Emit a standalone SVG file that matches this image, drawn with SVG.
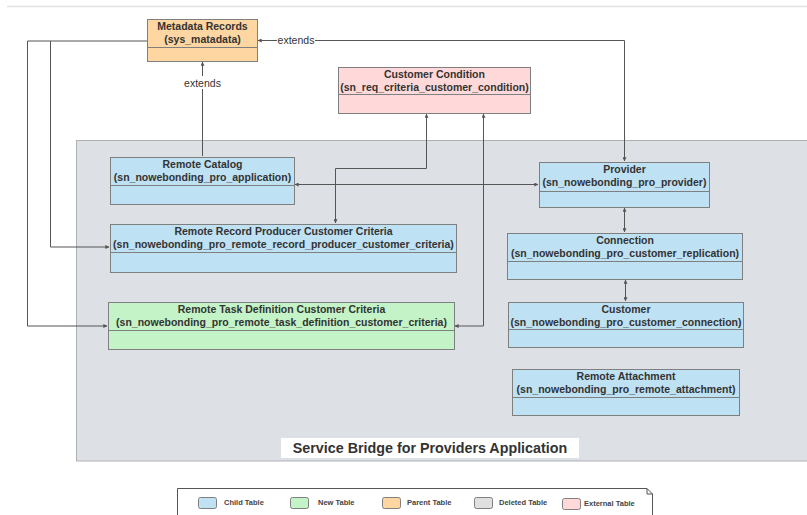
<svg xmlns="http://www.w3.org/2000/svg" width="807" height="515" viewBox="0 0 807 515">
<defs>
<style>
.t{font-family:"Liberation Sans",Arial,sans-serif;font-weight:bold;font-size:10.5px;fill:#333;text-anchor:middle}
.lbl{font-family:"Liberation Sans",Arial,sans-serif;font-size:10.5px;fill:#333;text-anchor:middle}
.lg{font-family:"Liberation Sans",Arial,sans-serif;font-weight:bold;font-size:7.5px;fill:#444}
.box{stroke:#7f7f7f;stroke-width:1}
.div{stroke:#7f7f7f;stroke-width:1}
.blue{fill:#bee1f4}
.green{fill:#c3f3c6}
.orange{fill:#fdd6a1}
.pink{fill:#ffd9d9}
.gray{fill:#e0e0e0}
.c{fill:none;stroke:#555;stroke-width:1}
</style>
<marker id="a" viewBox="0 0 6 6" refX="5.5" refY="3" markerWidth="4" markerHeight="4" orient="auto-start-reverse">
<path d="M0,0 L6,3 L0,6 z" fill="#555"/>
</marker>
</defs>
<rect width="807" height="515" fill="#fff"/>
<line x1="7" y1="6.5" x2="807" y2="6.5" stroke="#e2e2e2" stroke-width="1.5"/>

<g id="container">
<rect x="76.5" y="140.5" width="740" height="320.5" fill="#dde1e6" stroke="#aeb1b4" stroke-width="1"/>
<rect x="281" y="438" width="298" height="20" fill="#fff"/>
<text x="430" y="453" class="t" style="font-size:14.3px">Service Bridge for Providers Application</text>
</g>

<g id="connectors">
<path class="c" d="M147,41 H27.5 V326 H107" marker-end="url(#a)"/>
<path class="c" d="M50.5,41 V247 H109" marker-end="url(#a)"/>
<path class="c" d="M202.5,62 V156" marker-start="url(#a)"/>
<path class="c" d="M258,40.5 H624.5 V161" marker-start="url(#a)" marker-end="url(#a)"/>
<path class="c" d="M426.5,114 V168.5 H335.5 V223" marker-start="url(#a)" marker-end="url(#a)"/>
<path class="c" d="M483.5,114 V326 H455" marker-start="url(#a)" marker-end="url(#a)"/>
<path class="c" d="M295,184.5 H538" marker-start="url(#a)" marker-end="url(#a)"/>
<path class="c" d="M624.5,208 V232" marker-start="url(#a)" marker-end="url(#a)"/>
<path class="c" d="M625.5,280 V301" marker-start="url(#a)" marker-end="url(#a)"/>
<rect x="185" y="76" width="36" height="13" fill="#fff"/>
<text x="202.5" y="86.5" class="lbl">extends</text>
<rect x="277" y="34" width="38" height="12" fill="#fff"/>
<text x="296" y="44" class="lbl">extends</text>
</g>

<g id="metadata">
<rect x="147.5" y="19.5" width="110" height="42" class="box orange"/>
<line x1="147.5" y1="47.5" x2="257.5" y2="47.5" class="div"/>
<text x="202.5" y="30" class="t">Metadata Records</text>
<text x="202.5" y="42.5" class="t">(sys_matadata)</text>
</g>

<g id="customer-condition">
<rect x="338.5" y="67.5" width="192" height="46" class="box pink"/>
<line x1="338.5" y1="94.5" x2="530.5" y2="94.5" class="div"/>
<text x="434.5" y="78" class="t">Customer Condition</text>
<text x="434.5" y="90.5" class="t">(sn_req_criteria_customer_condition)</text>
</g>

<g id="remote-catalog">
<rect x="110.5" y="157.5" width="184" height="47" class="box blue"/>
<line x1="110.5" y1="185.5" x2="294.5" y2="185.5" class="div"/>
<text x="202.5" y="168" class="t">Remote Catalog</text>
<text x="202.5" y="180.5" class="t">(sn_nowebonding_pro_application)</text>
</g>

<g id="record-producer">
<rect x="110.5" y="224.5" width="346" height="48" class="box blue"/>
<line x1="110.5" y1="252.5" x2="456.5" y2="252.5" class="div"/>
<text x="283.5" y="235" class="t">Remote Record Producer Customer Criteria</text>
<text x="283.5" y="247.5" class="t">(sn_nowebonding_pro_remote_record_producer_customer_criteria)</text>
</g>

<g id="task-definition">
<rect x="108.5" y="302.5" width="346" height="47" class="box green"/>
<line x1="108.5" y1="330.5" x2="454.5" y2="330.5" class="div"/>
<text x="281.5" y="313" class="t">Remote Task Definition Customer Criteria</text>
<text x="281.5" y="325.5" class="t">(sn_nowebonding_pro_remote_task_definition_customer_criteria)</text>
</g>

<g id="provider">
<rect x="539.5" y="162.5" width="170" height="45" class="box blue"/>
<line x1="539.5" y1="191.5" x2="709.5" y2="191.5" class="div"/>
<text x="624.5" y="173" class="t">Provider</text>
<text x="624.5" y="185.5" class="t">(sn_nowebonding_pro_provider)</text>
</g>

<g id="connection">
<rect x="507.5" y="233.5" width="235" height="46" class="box blue"/>
<line x1="507.5" y1="261.5" x2="742.5" y2="261.5" class="div"/>
<text x="625" y="244" class="t">Connection</text>
<text x="625" y="256.5" class="t">(sn_nowebonding_pro_customer_replication)</text>
</g>

<g id="customer">
<rect x="508.5" y="302.5" width="235" height="45" class="box blue"/>
<line x1="508.5" y1="329.5" x2="743.5" y2="329.5" class="div"/>
<text x="626" y="313" class="t">Customer</text>
<text x="626" y="325.5" class="t">(sn_nowebonding_pro_customer_connection)</text>
</g>

<g id="remote-attachment">
<rect x="512.5" y="369.5" width="227" height="46" class="box blue"/>
<line x1="512.5" y1="397.5" x2="739.5" y2="397.5" class="div"/>
<text x="626" y="380" class="t">Remote Attachment</text>
<text x="626" y="392.5" class="t">(sn_nowebonding_pro_remote_attachment)</text>
</g>

<g id="legend">
<path d="M177.5,488.5 H647 L652.5,494 V515" fill="#fff" stroke="#555" stroke-width="1"/>
<path d="M647,488.5 V494 H652.5" fill="none" stroke="#555" stroke-width="1"/>
<line x1="177.5" y1="488.5" x2="177.5" y2="515" stroke="#555"/>
<rect x="198.5" y="497.5" width="18" height="11" rx="2" class="box blue" stroke="#555"/>
<text x="224" y="505" class="lg">Child Table</text>
<rect x="290.5" y="497.5" width="18" height="11" rx="2" class="box green" stroke="#555"/>
<text x="318" y="505" class="lg">New Table</text>
<rect x="382.5" y="497.5" width="18" height="11" rx="2" class="box orange" stroke="#555"/>
<text x="407" y="505" class="lg">Parent Table</text>
<rect x="474.5" y="497.5" width="18" height="11" rx="2" class="box gray" stroke="#555"/>
<text x="499" y="505" class="lg">Deleted Table</text>
<rect x="562.5" y="498.5" width="18" height="11" rx="2" class="box pink" stroke="#555"/>
<text x="584" y="506" class="lg">External Table</text>
</g>
</svg>
